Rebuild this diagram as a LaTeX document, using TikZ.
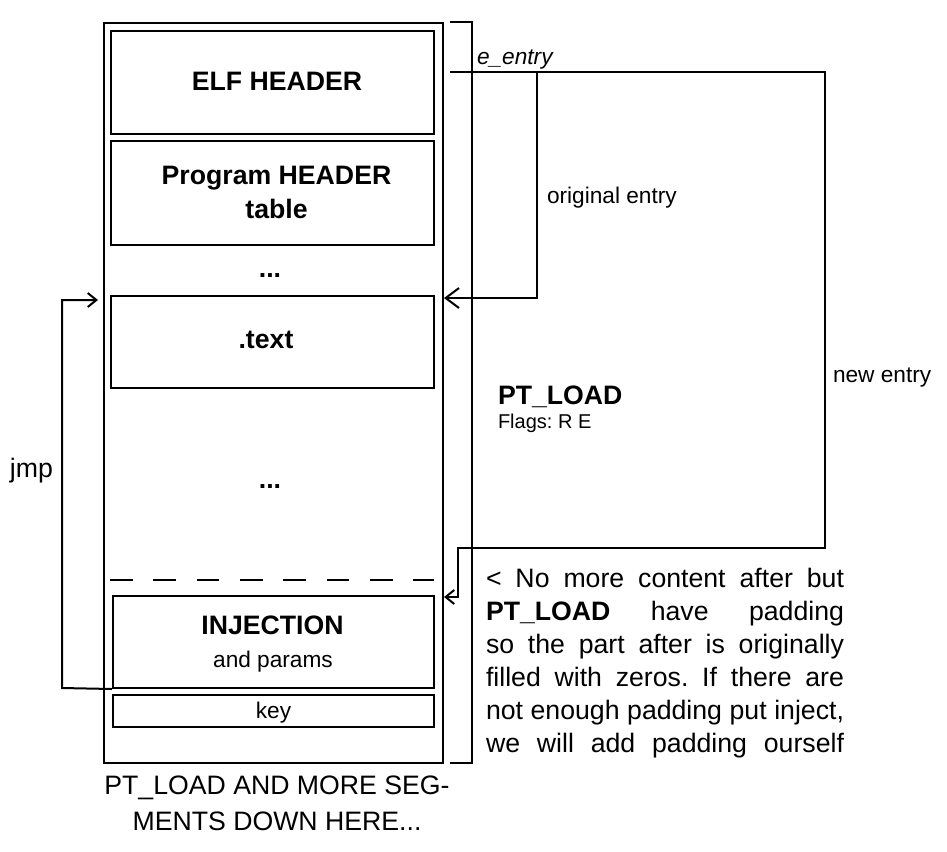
\documentclass[tikz,border=0pt]{standalone}
\usepackage{fontspec}
\setmainfont{Liberation Sans}
\usetikzlibrary{arrows.meta,fit}

\begin{document}
\frenchspacing
\begin{tikzpicture}[x=0.75pt,y=-0.75pt,
  line width=1.5pt,
  box/.style={draw,inner sep=0pt,line width=1.5pt},
  big/.style={font=\fontsize{20}{24}\selectfont\bfseries},
  mid/.style={font=\fontsize{17}{20}\selectfont},
  txt/.style={inner sep=0pt,anchor=base},
  conn/.style={line width=1.5pt},
  barb/.style={-{Straight Barb[length=6.5pt,width=10.5pt,line width=1.5pt]}},
  bigbarb/.style={-{Straight Barb[length=10pt,width=15pt,line width=1.5pt]}}]

\useasboundingbox (0,0) rectangle (947,851);

% segment and its parts
\node[box,fit={(104,23) (443,763)}] (seg) {};
\node[box,fit={(111,31) (434,134)}] (elf) {};
\node[box,fit={(111,141) (434,245)}] (phdr) {};
\node[box,fit={(111,296) (434,388)}] (text) {};
\node[box,fit={(113,596) (434,688)}] (inj) {};
\node[box,fit={(113,695) (434,727)}] (key) {};
\draw[line width=1.5pt,dash pattern=on 17pt off 15.5pt] (110,580) -- (434,580);

% box labels
\node[big,txt] at (277,90) {ELF HEADER};
\node[big,txt] at (276.5,184) {Program HEADER};
\node[big,txt] at (276.5,218) {table};
\node[big,txt] at (270,277) {...};
\node[big,txt] at (266,348) {.text};
\node[big,txt] at (270,488) {...};
\node[big,txt] at (272.5,634) {INJECTION};
\node[mid,txt] at (273,667) {and params};
\node[mid,txt] at (273.5,718) {key};

% segment extent bracket
\coordinate (brt) at (450,22);
\coordinate (brb) at (450,763);
\draw[conn] (brt) -- (472,22) -- (472,763) -- (brb);

% entry points
\coordinate (eentry) at (450,72);
\coordinate (corner) at (825,72);
\draw[conn] (eentry) -- (corner) -- (825,548) -- (458,548) -- (458,597)
  [barb] -- (seg.east |- 0,597);
\draw[conn,bigbarb] (537,72) -- (537,298) -- (seg.east |- 0,298);
\node[mid,txt,anchor=base west,font=\fontsize{17}{20}\selectfont\itshape] (elab) at (476,64) {e\_entry};
\node[mid,txt,anchor=base west] (olab) at (546,203) {original entry};
\node[mid,txt,anchor=base west] (nlab) at (832,382) {new entry};

% jump back from the injection
\draw[conn,barb] (inj.south west) -- (62,688) -- (62,300) -- (98,300);
\node[txt,anchor=base west,font=\fontsize{20}{24}\selectfont] (jmp) at (9,477) {jmp};

% segment type
\node[big,txt,anchor=base west] (pt) at (497,404) {PT\_LOAD};
\node[txt,anchor=base west,font=\fontsize{15}{18}\selectfont] (flags) at (497,428) {Flags: R E};

% note on padding, every line justified
\node[anchor=north west,inner sep=0pt,text width=268.5pt,align=justify,
      font=\fontsize{20}{24.75}\selectfont] (note) at (485,567)
  {< No more content after but\linebreak
   \textbf{PT\_LOAD} have padding\linebreak
   so the part after is originally\linebreak
   filled with zeros. If there are\linebreak
   not enough padding put inject,\linebreak
   we will add padding ourself\parfillskip=0pt\par};

% caption below the segment
\node[txt,align=center,font=\fontsize{20}{27}\selectfont,anchor=north] (cap) at (277,775)
  {PT\_LOAD AND MORE SEG-\\MENTS DOWN HERE...};
\end{tikzpicture}
\end{document}
